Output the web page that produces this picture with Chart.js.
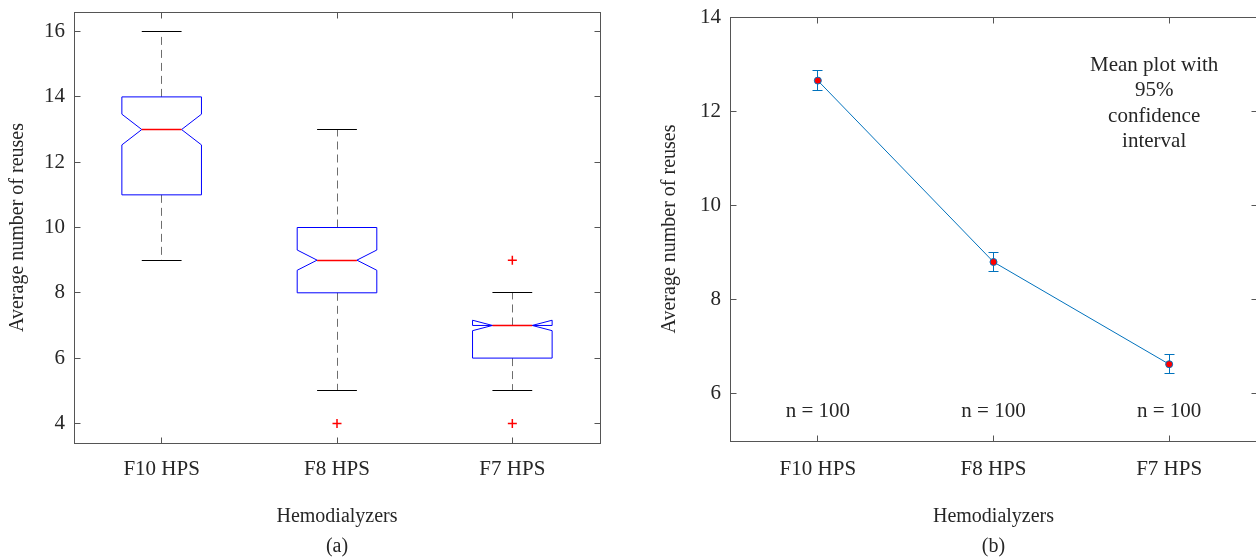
<!DOCTYPE html>
<html>
<head>
<meta charset="utf-8">
<script src="https://cdn.jsdelivr.net/npm/chart.js@4.4.1/dist/chart.umd.min.js"></script>
<style>
  html, body { margin: 0; padding: 0; background: #fff; overflow: hidden; }
  #wrapA { position: absolute; left: 0; top: 0; width: 628px; height: 558px; }
  #wrapB { position: absolute; left: 628px; top: 0; width: 640px; height: 558px; }
</style>
</head>
<body>
<div id="wrapA"><canvas id="boxChart"></canvas></div>
<div id="wrapB"><canvas id="meanChart"></canvas></div>
<script>
const categories = ['F10 HPS', 'F8 HPS', 'F7 HPS'];

// (a) notched box plot
const whiskerLow = [9, 5, 5];
const quartile1 = [11, 8, 6];
const medians = [13, 9, 7];
const quartile3 = [14, 10, 7];
const whiskerHigh = [16, 13, 8];
const notchLow = [12.53, 8.69, 6.84];
const notchHigh = [13.47, 9.31, 7.16];
const outliers = [[], [4], [9, 4]];
const boxTicks = [4, 6, 8, 10, 12, 14, 16];

// (b) mean plot with 95% CI
const means = [12.65, 8.80, 6.63];
const ciHalf = [0.21, 0.20, 0.20];
const sampleSizes = [100, 100, 100];
const meanTicks = [6, 8, 10, 12, 14];
const noteLines = ['Mean plot with', '95%', 'confidence', 'interval'];

Chart.defaults.font.family = '"Liberation Serif", "Times New Roman", serif';
Chart.defaults.font.size = 21;
Chart.defaults.color = '#262626';

const AXIS = '#555555';

const px = v => Math.floor(v) + 0.5;

// box outline + inward ticks on all four sides
const frame = {
  id: 'frame',
  afterDraw(chart) {
    const {ctx, chartArea: a, scales: {x, y}} = chart;
    const L = px(a.left), R = px(a.right), T = px(a.top), B = px(a.bottom);
    ctx.save();
    ctx.strokeStyle = AXIS;
    ctx.lineWidth = 1;
    ctx.beginPath();
    y.ticks.forEach((t, i) => {
      const yy = px(y.getPixelForTick(i));
      ctx.moveTo(L, yy); ctx.lineTo(L + 6, yy);
      ctx.moveTo(R, yy); ctx.lineTo(R - 6, yy);
    });
    x.ticks.forEach((t, i) => {
      const xx = px(x.getPixelForTick(i));
      ctx.moveTo(xx, B); ctx.lineTo(xx, B - 6);
      ctx.moveTo(xx, T); ctx.lineTo(xx, T + 6);
    });
    ctx.stroke();
    ctx.strokeRect(L, T, R - L, B - T);
    ctx.restore();
  }
};

const panelTag = {
  id: 'panelTag',
  afterDraw(chart, args, opts) {
    const {ctx, chartArea: a} = chart;
    ctx.save();
    ctx.font = '20px "Liberation Serif", serif';
    ctx.fillStyle = '#262626';
    ctx.textAlign = 'center';
    ctx.textBaseline = 'middle';
    ctx.fillText(opts.text, (a.left + a.right) / 2, 547);
    ctx.restore();
  }
};

const boxes = {
  id: 'boxes',
  beforeDatasetsDraw(chart) {
    const {ctx, scales: {x, y}} = chart;
    const step = x.getPixelForValue(1) - x.getPixelForValue(0);
    const half = step * 0.227;
    const inner = half / 2;
    ctx.save();
    ctx.lineWidth = 1;
    categories.forEach((c, i) => {
      const cx = x.getPixelForValue(i);
      const l = cx - half, r = cx + half;
      // whiskers
      ctx.strokeStyle = '#6e6e6e';
      ctx.setLineDash([8, 5]);
      ctx.beginPath();
      ctx.moveTo(px(cx), y.getPixelForValue(quartile3[i]));
      ctx.lineTo(px(cx), y.getPixelForValue(whiskerHigh[i]));
      ctx.moveTo(px(cx), y.getPixelForValue(quartile1[i]));
      ctx.lineTo(px(cx), y.getPixelForValue(whiskerLow[i]));
      ctx.stroke();
      ctx.setLineDash([]);
      // caps
      ctx.strokeStyle = '#000';
      ctx.beginPath();
      [whiskerHigh[i], whiskerLow[i]].forEach(v => {
        const yy = px(y.getPixelForValue(v));
        ctx.moveTo(cx - inner, yy); ctx.lineTo(cx + inner, yy);
      });
      ctx.stroke();
      // notched box
      const yq1 = y.getPixelForValue(quartile1[i]);
      const yq3 = y.getPixelForValue(quartile3[i]);
      const ym = y.getPixelForValue(medians[i]);
      const ynl = y.getPixelForValue(notchLow[i]);
      const ynh = y.getPixelForValue(notchHigh[i]);
      ctx.strokeStyle = '#0000ff';
      ctx.beginPath();
      ctx.moveTo(l, yq1);
      ctx.lineTo(l, ynl);
      ctx.lineTo(cx - inner, ym);
      ctx.lineTo(l, ynh);
      ctx.lineTo(l, yq3);
      ctx.lineTo(r, yq3);
      ctx.lineTo(r, ynh);
      ctx.lineTo(cx + inner, ym);
      ctx.lineTo(r, ynl);
      ctx.lineTo(r, yq1);
      ctx.closePath();
      ctx.stroke();
      // median
      ctx.strokeStyle = '#ff0000';
      ctx.lineWidth = 1.3;
      ctx.beginPath();
      ctx.moveTo(cx - inner, px(ym));
      ctx.lineTo(cx + inner, px(ym));
      ctx.stroke();
      ctx.lineWidth = 1;
    });
    ctx.restore();
  }
};

const errorBars = {
  id: 'errorBars',
  beforeDatasetsDraw(chart) {
    const {ctx, scales: {x, y}} = chart;
    ctx.save();
    ctx.strokeStyle = '#0072BD';
    ctx.lineWidth = 1;
    ctx.beginPath();
    means.forEach((m, i) => {
      const cx = px(x.getPixelForValue(i));
      const top = px(y.getPixelForValue(m + ciHalf[i]));
      const bot = px(y.getPixelForValue(m - ciHalf[i]));
      ctx.moveTo(cx, top); ctx.lineTo(cx, bot);
      ctx.moveTo(cx - 5, top); ctx.lineTo(cx + 5, top);
      ctx.moveTo(cx - 5, bot); ctx.lineTo(cx + 5, bot);
    });
    ctx.stroke();
    ctx.restore();
  }
};

const meanNotes = {
  id: 'meanNotes',
  afterDraw(chart) {
    const {ctx, scales: {x, y}} = chart;
    ctx.save();
    ctx.fillStyle = '#262626';
    ctx.font = '21px "Liberation Serif", serif';
    ctx.textAlign = 'center';
    ctx.textBaseline = 'middle';
    sampleSizes.forEach((n, i) => {
      ctx.fillText('n = ' + n, x.getPixelForValue(i), y.getPixelForValue(5.63));
    });
    const nx = x.getPixelForValue(2) - 15;
    noteLines.forEach((s, k) => {
      ctx.fillText(s, nx, y.getPixelForValue(12.98) + k * 25.5);
    });
    ctx.restore();
  }
};

const xScale = (tickPad, titlePad, height) => ({
  type: 'category',
  offset: true,
  grid: { display: false, drawTicks: false },
  border: { display: false },
  ticks: { padding: tickPad, maxRotation: 0 },
  title: { display: true, text: 'Hemodialyzers', font: { size: 20 }, padding: { top: 0, bottom: titlePad } },
  afterFit: s => { s.height = height; s.paddingLeft = 0; s.paddingRight = 0; }
});

const yScale = (min, max, tickVals, width, titlePad) => ({
  min, max,
  grid: { display: false, drawTicks: false },
  border: { display: false },
  ticks: { padding: 9 },
  afterBuildTicks: s => { s.ticks = tickVals.map(v => ({ value: v })); },
  title: { display: true, text: 'Average number of reuses', font: { size: 20 }, padding: { top: titlePad, bottom: 0 } },
  afterFit: s => { s.width = width; s.paddingTop = 0; s.paddingBottom = 0; }
});

new Chart(document.getElementById('boxChart'), {
  type: 'line',
  data: {
    labels: categories,
    datasets: [{
      label: 'Outliers',
      data: outliers.flatMap((vals, i) => vals.map(v => ({ x: categories[i], y: v }))),
      showLine: false,
      pointStyle: 'cross',
      pointRadius: 4.5,
      pointBorderWidth: 1.5,
      pointBorderColor: '#ff0000'
    }]
  },
  options: {
    responsive: true,
    maintainAspectRatio: false,
    animation: false,
    devicePixelRatio: 1,
    layout: { padding: { top: 12, right: 28, left: 0, bottom: 0 } },
    scales: {
      x: xScale(14, 29, 115),
      y: yScale(3.4, 16.6, boxTicks, 74, 6)
    },
    plugins: {
      legend: { display: false },
      tooltip: { enabled: false },
      panelTag: { text: '(a)' }
    }
  },
  plugins: [boxes, frame, panelTag]
});

new Chart(document.getElementById('meanChart'), {
  type: 'line',
  data: {
    labels: categories,
    datasets: [{
      label: 'Mean',
      data: means,
      borderColor: '#0072BD',
      borderWidth: 1,
      pointRadius: 3.5,
      pointBorderWidth: 1,
      pointBackgroundColor: '#ff0000',
      pointBorderColor: '#0072BD',
      tension: 0
    }]
  },
  options: {
    responsive: true,
    maintainAspectRatio: false,
    animation: false,
    devicePixelRatio: 1,
    layout: { padding: { top: 17, right: 11, left: 0, bottom: 0 } },
    scales: {
      x: xScale(16, 29, 117),
      y: yScale(5, 14, meanTicks, 102, 30)
    },
    plugins: {
      legend: { display: false },
      tooltip: { enabled: false },
      panelTag: { text: '(b)' }
    }
  },
  plugins: [errorBars, frame, meanNotes, panelTag]
});
</script>
</body>
</html>
